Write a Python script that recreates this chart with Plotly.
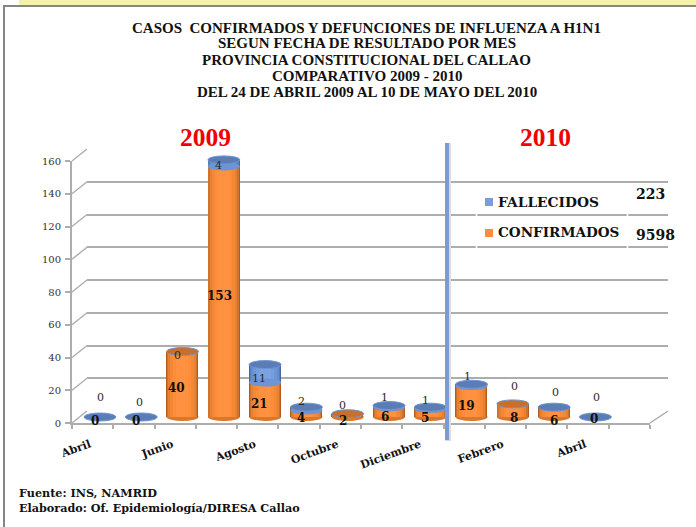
import plotly.graph_objects as go

# ---------- data ----------
MONTHS = ["Abril", "Mayo", "Junio", "Julio", "Agosto", "Setiembre", "Octubre", "Noviembre",
          "Diciembre", "Enero", "Febrero", "Marzo", "Abril", "Mayo"]
CONFIRMADOS = [0, 0, 40, 153, 21, 4, 2, 6, 5, 19, 8, 6, 0]
FALLECIDOS = [0, 0, 0, 4, 11, 2, 0, 1, 1, 1, 0, 0, 0]
TOTAL_CONFIRMADOS = "9598"
TOTAL_FALLECIDOS = "223"
YEAR_LABELS = ["2009", "2010"]
Y_TICKS = [0, 20, 40, 60, 80, 100, 120, 140, 160]
TITLE_LINES = ["CASOS  CONFIRMADOS Y DEFUNCIONES DE INFLUENZA A H1N1",
               "SEGUN FECHA DE RESULTADO POR MES",
               "PROVINCIA CONSTITUCIONAL DEL CALLAO",
               "COMPARATIVO 2009 - 2010",
               "DEL 24 DE ABRIL 2009 AL 10 DE MAYO DEL 2010"]
FOOT_LINES = ["Fuente: INS, NAMRID", "Elaborado: Of. Epidemiología/DIRESA Callao"]

# ---------- style / layout constants ----------
W, H = 696, 527
SERIF = "Liberation Serif"
DJ = "DejaVu Serif"
GRID = "#adadad"
px = lambda x: x / W
py = lambda y: 1 - y / H
SCALE = 1.6375            # pixels per unit
BAR_W = 0.775
LABEL_NUDGE = 0.07
ORANGE_BANDS = [(1.0, "#b05c1e"), (0.94, "#cf722a"), (0.86, "#e8812f"), (0.74, "#f58835"), (0.55, "#fd8d38"), (0.38, "#ff9141")]
BLUE_BANDS = [(1.0, "#44699f"), (0.94, "#5680bd"), (0.86, "#658ccd"), (0.74, "#6f95d6"), (0.55, "#769dde"), (0.38, "#7ba2e3")]
TOP_BLUE, TOP_ORANGE = "#5b7db5", "#c96f2a"
TOP_FILL = [TOP_BLUE, TOP_BLUE, TOP_ORANGE, TOP_BLUE, TOP_BLUE, TOP_BLUE, TOP_ORANGE, TOP_BLUE,
            TOP_BLUE, TOP_BLUE, TOP_ORANGE, TOP_BLUE, TOP_BLUE]
CONF_SHIFT = [(-5, -4), (-5, -4), (-6, -4), (-4, -4), (-6, -4), (-5, -4), (-5, -6), (-4, -5),
              (-5, -5), (-5, -5), (1, -8), (0, -9), (-1, -2)]
FALL_SHIFT = [(1, 20), (-2, 15), (-5, -4), (-5, -6), (-6, -14), (-5, 6), (-5, 8), (-4, 8),
              (-5, 7), (-4, 8), (2, 17), (1, 15), (1, 20)]

fig = go.Figure()
idx = list(range(len(CONFIRMADOS)))

# back wall subplot (grid only)
fig.add_trace(go.Scatter(x=[None], y=[None], xaxis="x", yaxis="y", showlegend=False, hoverinfo="skip"))
# cylinders, drawn as nested bands to give the round shading
for frac, col in ORANGE_BANDS:
    fig.add_trace(go.Bar(x=idx, y=CONFIRMADOS, base=0, width=BAR_W * frac, marker=dict(color=col, line_width=0),
                         xaxis="x2", yaxis="y2", name="CONFIRMADOS", showlegend=False))
for frac, col in BLUE_BANDS:
    fig.add_trace(go.Bar(x=idx, y=FALLECIDOS, base=CONFIRMADOS, width=BAR_W * frac, marker=dict(color=col, line_width=0),
                         xaxis="x2", yaxis="y2", name="FALLECIDOS", showlegend=False))
# front axes
fig.add_trace(go.Scatter(x=[None], y=[None], xaxis="x3", yaxis="y3", showlegend=False, hoverinfo="skip"))

shapes = []
# frame
shapes.append(dict(type="rect", xref="paper", yref="paper", x0=px(19), x1=1, y0=py(5), y1=1,
                   fillcolor="#f5f1a9", line_width=0, layer="below"))
shapes.append(dict(type="rect", xref="paper", yref="paper", x0=px(3), x1=1, y0=py(7), y1=py(5),
                   fillcolor="#858585", line_width=0, layer="below"))
shapes.append(dict(type="rect", xref="paper", yref="paper", x0=px(3), x1=px(5), y0=0, y1=py(5),
                   fillcolor="#858585", line_width=0, layer="below"))
# 3D floor / wall diagonals
for t in Y_TICKS:
    y_front = 423 - t * SCALE
    shapes.append(dict(type="line", xref="paper", yref="paper", x0=px(72), x1=px(87),
                       y0=py(y_front), y1=py(y_front - 12), line=dict(color=GRID, width=1.5), layer="below"))
shapes.append(dict(type="line", xref="paper", yref="paper", x0=px(650), x1=px(668),
                   y0=py(423), y1=py(411), line=dict(color=GRID, width=1.5), layer="below"))
# cylinder caps
ELL_X = BAR_W / 2
ELL_Y = 4.0 / SCALE
for i, (c, f) in enumerate(zip(CONFIRMADOS, FALLECIDOS)):
    total = c + f
    if c > 0:
        shapes.append(dict(type="circle", xref="x2", yref="y2", x0=i - ELL_X, x1=i + ELL_X, y0=-ELL_Y, y1=ELL_Y,
                           fillcolor="#d9772c", line_width=0, layer="between"))
    if c > 0 and f > 0:
        shapes.append(dict(type="circle", xref="x2", yref="y2", x0=i - ELL_X, x1=i + ELL_X, y0=c - ELL_Y, y1=c + ELL_Y,
                           fillcolor="#6d94d4", line_width=0, layer="above"))
    shapes.append(dict(type="circle", xref="x2", yref="y2", x0=i - ELL_X, x1=i + ELL_X, y0=total - ELL_Y, y1=total + ELL_Y,
                       fillcolor=TOP_FILL[i], line=dict(color="#6d94d4", width=1), layer="above"))
# divider between years
shapes.append(dict(type="line", xref="paper", yref="paper", x0=px(448), x1=px(448), y0=py(143), y1=py(441),
                   line=dict(color="#dcdcdc", width=6), layer="above"))
shapes.append(dict(type="line", xref="paper", yref="paper", x0=px(447), x1=px(447), y0=py(143), y1=py(440),
                   line=dict(color="#7a9bd6", width=4), layer="above"))
# legend box gaps and swatches
for gx in (476.5, 627.5):
    for gy in (214, 247):
        shapes.append(dict(type="rect", xref="paper", yref="paper", x0=px(gx - 0.8), x1=px(gx + 0.8),
                           y0=py(gy + 2), y1=py(gy - 2), fillcolor="white", line_width=0, layer="above"))
shapes.append(dict(type="rect", xref="paper", yref="paper", x0=px(485), x1=px(493), y0=py(206), y1=py(198),
                   fillcolor="#7a9bdc", line_width=0, layer="above"))
shapes.append(dict(type="rect", xref="paper", yref="paper", x0=px(485), x1=px(493), y0=py(237), y1=py(229),
                   fillcolor="#ff8c3a", line_width=0, layer="above"))

ann = []
def text(t, x, y, size, family=SERIF, color="#111", anchor="center", bold=True):
    s = f"<b>{t}</b>" if bold else t
    ann.append(dict(text=s, xref="paper", yref="paper", x=px(x), y=py(y), xanchor=anchor, yanchor="middle",
                    showarrow=False, font=dict(family=family, size=size, color=color)))

for line, ypx in zip(TITLE_LINES, (27.5, 43.5, 59.5, 76, 92)):
    text(line, 367, ypx, 15)
text(YEAR_LABELS[0], 205, 137, 25.5, color="#f00000")
text(YEAR_LABELS[1], 545, 137, 25.5, color="#f00000")
text("FALLECIDOS", 496, 202, 13.8, family=DJ, anchor="left")
text("CONFIRMADOS", 496, 232, 13.6, family=DJ, anchor="left")
text(TOTAL_FALLECIDOS, 634, 194, 14, family=DJ, anchor="left")
text(TOTAL_CONFIRMADOS, 634, 235, 14, family=DJ, anchor="left")
text(FOOT_LINES[0], 17, 493, 11.2, family=DJ, anchor="left")
text(FOOT_LINES[1], 17, 508, 11.2, family=DJ, anchor="left")

for i, (c, f) in enumerate(zip(CONFIRMADOS, FALLECIDOS)):
    dx, dy = CONF_SHIFT[i]
    ann.append(dict(text=f"<b>{c}</b>", xref="x2", yref="y2", x=i, y=c / 2, xshift=dx, yshift=dy, showarrow=False,
                    font=dict(family=DJ, size=12, color="#111")))
    dx, dy = FALL_SHIFT[i]
    ann.append(dict(text=str(f), xref="x2", yref="y2", x=i, y=c + f, xshift=dx, yshift=dy, showarrow=False,
                    font=dict(family=DJ, size=11, color="#2a2a2a")))

n = len(MONTHS)
hidden = dict(visible=False, showgrid=False, zeroline=False, automargin=False)
fig.update_layout(
    template="none",
    width=W, height=H, margin=dict(l=0, r=0, t=0, b=0, pad=0), autosize=False,
    paper_bgcolor="white", plot_bgcolor="rgba(0,0,0,0)", barmode="overlay", showlegend=False,
    bargap=0, shapes=shapes, annotations=ann,
    # back wall
    xaxis=dict(domain=[px(87), px(668)], range=[-0.5, n - 0.5], anchor="y", **hidden),
    yaxis=dict(domain=[py(411), py(149)], range=[0, 160], anchor="x", tickvals=Y_TICKS, showgrid=True, automargin=False,
               gridcolor=GRID, gridwidth=1.5, zeroline=False, showline=False, showticklabels=False, ticks=""),
    # cylinders
    xaxis2=dict(domain=[px(79.35), px(657.35)], range=[-0.5, n - 0.5], anchor="y2", **hidden),
    yaxis2=dict(domain=[py(417 + 14 * SCALE), py(417 - 160 * SCALE)], range=[-14, 160], anchor="x2", **hidden),
    # front axes
    xaxis3=dict(domain=[px(72), px(650)], range=[-0.5, n - 0.5], anchor="y3", showgrid=False, zeroline=False,
                showline=True, linecolor=GRID, linewidth=2, automargin=False,
                tickmode="array", tickvals=[i - LABEL_NUDGE for i in idx[::2]], ticktext=MONTHS[::2][:len(idx[::2])],
                tickangle=-20, ticks="", ticklabelstandoff=9,
                tickfont=dict(family=DJ, size=11, color="#111", weight="bold"),
                minor=dict(tickmode="array", tickvals=[i - 0.5 for i in range(n + 1)], ticks="outside",
                           ticklen=4, tickcolor=GRID, tickwidth=1.5, showgrid=False)),
    yaxis3=dict(domain=[py(423), py(423 - 160 * SCALE)], range=[0, 160], anchor="x3", showgrid=False, zeroline=False,
                showline=True, linecolor=GRID, linewidth=2, automargin=False, tickmode="array", tickvals=Y_TICKS,
                ticks="outside", ticklen=5, tickcolor=GRID, tickwidth=1.5, ticklabelstandoff=2,
                tickfont=dict(family=DJ, size=10, color="#333")),
)

fig.write_html("out.html", config=dict(displayModeBar=False),
               post_script="document.body.style.margin='0';")
